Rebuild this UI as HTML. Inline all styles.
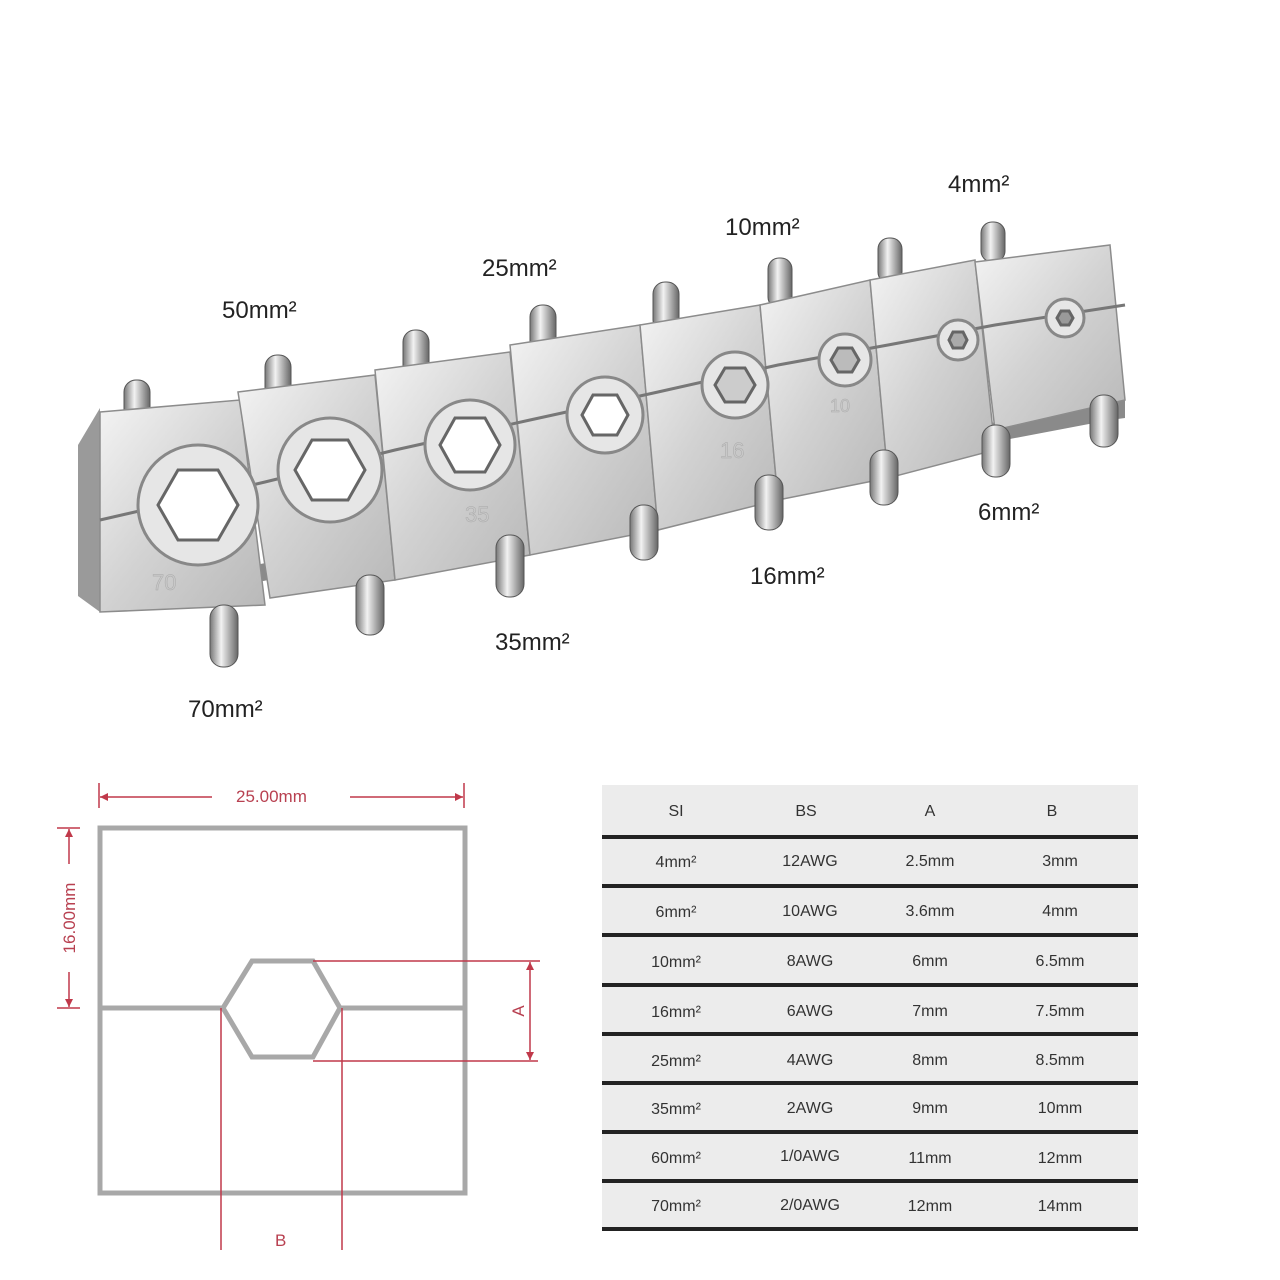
<!DOCTYPE html>
<html><head><meta charset="utf-8"><style>
html,body{margin:0;padding:0;background:#fff;width:1280px;height:1280px;overflow:hidden}
svg{display:block}
text{font-family:"Liberation Sans",sans-serif}
</style></head><body>
<svg width="1280" height="1280" viewBox="0 0 1280 1280" xmlns="http://www.w3.org/2000/svg">
<defs>
<linearGradient id="m" x1="0" y1="0" x2="1" y2="1">
<stop offset="0" stop-color="#f4f4f4"/><stop offset="0.5" stop-color="#d2d2d2"/><stop offset="1" stop-color="#b8b8b8"/></linearGradient>
<linearGradient id="p" x1="0" y1="0" x2="1" y2="0">
<stop offset="0" stop-color="#777"/><stop offset="0.4" stop-color="#f2f2f2"/><stop offset="1" stop-color="#666"/></linearGradient>
</defs>
<g fill="url(#p)" stroke="#555" stroke-width="1">
<rect x="124" y="380" width="26" height="60" rx="12"/>
<rect x="265" y="355" width="26" height="60" rx="12"/>
<rect x="403" y="330" width="26" height="50" rx="12"/>
<rect x="530" y="305" width="26" height="50" rx="12"/>
<rect x="653" y="282" width="26" height="50" rx="12"/>
<rect x="768" y="258" width="24" height="50" rx="11"/>
<rect x="878" y="238" width="24" height="45" rx="11"/>
<rect x="981" y="222" width="24" height="40" rx="11"/>
</g>
<polygon points="78,445 100,408 100,612 78,596" fill="#9a9a9a"/>
<polygon points="100,612 1110,420 1125,418 1125,400 1110,400 100,595" fill="#8a8a8a"/>
<g fill="url(#m)" stroke="#8c8c8c" stroke-width="1.5">
<polygon points="100,412 240,400 265,605 100,612"/>
<polygon points="238,392 375,375 395,580 270,598"/>
<polygon points="375,370 510,352 530,555 395,580"/>
<polygon points="510,345 640,325 658,530 530,555"/>
<polygon points="640,325 760,305 778,500 658,530"/>
<polygon points="760,305 870,280 888,478 778,500"/>
<polygon points="870,280 975,260 995,450 888,478"/>
<polygon points="975,262 1110,245 1125,400 995,430"/>
</g>
<polyline points="100,520 265,482 395,450 530,420 658,392 778,365 888,345 995,325 1125,305" fill="none" stroke="#777" stroke-width="3"/>
<g stroke="#888" stroke-width="3" fill="#e6e6e6">
<circle cx="198" cy="505" r="60"/><circle cx="330" cy="470" r="52"/>
<circle cx="470" cy="445" r="45"/><circle cx="605" cy="415" r="38"/>
<circle cx="735" cy="385" r="33"/><circle cx="845" cy="360" r="26"/>
<circle cx="958" cy="340" r="20"/><circle cx="1065" cy="318" r="19"/>
</g>
<g fill="#fff" stroke="#666" stroke-width="3">
<polygon points="158,505 178,470 218,470 238,505 218,540 178,540"/>
<polygon points="295,470 312,440 348,440 365,470 348,500 312,500"/>
<polygon points="440,445 455,418 485,418 500,445 485,472 455,472"/>
<polygon points="582,415 593,395 617,395 628,415 617,435 593,435"/>
<polygon points="715,385 725,368 745,368 755,385 745,402 725,402" fill="#ccc"/>
<polygon points="831,360 838,348 852,348 859,360 852,372 838,372" fill="#bbb"/>
<polygon points="949,340 953,332 963,332 967,340 963,348 953,348" fill="#aaa"/>
<polygon points="1057,318 1061,311 1069,311 1073,318 1069,325 1061,325" fill="#999"/>
</g>
<g fill="#c8c8c8" font-size="22" stroke="#aaa" stroke-width="0.5">
<text x="152" y="590">70</text><text x="465" y="522">35</text>
<text x="720" y="458">16</text><text x="830" y="412" font-size="18">10</text>
</g>
<g fill="url(#p)" stroke="#555" stroke-width="1">
<rect x="210" y="605" width="28" height="62" rx="13"/>
<rect x="356" y="575" width="28" height="60" rx="13"/>
<rect x="496" y="535" width="28" height="62" rx="13"/>
<rect x="630" y="505" width="28" height="55" rx="13"/>
<rect x="755" y="475" width="28" height="55" rx="13"/>
<rect x="870" y="450" width="28" height="55" rx="13"/>
<rect x="982" y="425" width="28" height="52" rx="13"/>
<rect x="1090" y="395" width="28" height="52" rx="13"/>
</g>
<g font-size="24" fill="#222">
<text x="222" y="318">50mm²</text><text x="482" y="276">25mm²</text>
<text x="725" y="235">10mm²</text><text x="948" y="192">4mm²</text>
<text x="188" y="717">70mm²</text><text x="495" y="650">35mm²</text>
<text x="750" y="584">16mm²</text><text x="978" y="520">6mm²</text>
</g>
<g fill="none" stroke="#a8a8a8" stroke-width="5">
<rect x="100" y="828" width="365" height="365"/>
<line x1="100" y1="1008" x2="223" y2="1008"/><line x1="340" y1="1008" x2="465" y2="1008"/>
<polygon points="223,1008 252,961 313,961 340,1008 313,1057 252,1057"/>
</g>
<g stroke="#c0394a" stroke-width="1.5" fill="#c0394a">
<line x1="99" y1="783" x2="99" y2="808"/><line x1="464" y1="783" x2="464" y2="808"/>
<line x1="100" y1="797" x2="212" y2="797"/><line x1="350" y1="797" x2="463" y2="797"/>
<polygon points="100,797 108,793 108,801" stroke="none"/><polygon points="463,797 455,793 455,801" stroke="none"/>
<line x1="57" y1="828" x2="80" y2="828"/><line x1="57" y1="1008" x2="80" y2="1008"/>
<line x1="69" y1="829" x2="69" y2="864"/><line x1="69" y1="972" x2="69" y2="1007"/>
<polygon points="69,829 65,837 73,837" stroke="none"/><polygon points="69,1007 65,999 73,999" stroke="none"/>
<line x1="313" y1="961" x2="540" y2="961"/><line x1="313" y1="1061" x2="538" y2="1061"/>
<line x1="530" y1="962" x2="530" y2="1060"/>
<polygon points="530,962 526,970 534,970" stroke="none"/><polygon points="530,1060 526,1052 534,1052" stroke="none"/>
<line x1="221" y1="1008" x2="221" y2="1250"/><line x1="342" y1="1008" x2="342" y2="1250"/>
</g>
<g fill="#b84050" font-size="17">
<text x="236" y="802">25.00mm</text>
<text x="275" y="1246">B</text>
<text transform="translate(75,918) rotate(-90)" text-anchor="middle">16.00mm</text>
<text transform="translate(524,1011) rotate(-90)" text-anchor="middle">A</text>
</g>
<rect x="602" y="785" width="536" height="445" fill="#ececec"/>
<g fill="#222">
<rect x="602" y="835" width="536" height="4"/><rect x="602" y="884" width="536" height="4"/>
<rect x="602" y="933" width="536" height="4"/><rect x="602" y="983" width="536" height="4"/>
<rect x="602" y="1032" width="536" height="4"/><rect x="602" y="1081" width="536" height="4"/>
<rect x="602" y="1130" width="536" height="4"/><rect x="602" y="1179" width="536" height="4"/>
<rect x="602" y="1227" width="536" height="4"/>
</g>
<g fill="#333" font-size="16" text-anchor="middle">
<text x="676" y="816">SI</text><text x="806" y="816">BS</text><text x="930" y="816">A</text><text x="1052" y="816">B</text>
<text x="676" y="867">4mm²</text><text x="810" y="866">12AWG</text><text x="930" y="866">2.5mm</text><text x="1060" y="866">3mm</text>
<text x="676" y="917">6mm²</text><text x="810" y="916">10AWG</text><text x="930" y="916">3.6mm</text><text x="1060" y="916">4mm</text>
<text x="676" y="967">10mm²</text><text x="810" y="966">8AWG</text><text x="930" y="966">6mm</text><text x="1060" y="966">6.5mm</text>
<text x="676" y="1017">16mm²</text><text x="810" y="1016">6AWG</text><text x="930" y="1016">7mm</text><text x="1060" y="1016">7.5mm</text>
<text x="676" y="1066">25mm²</text><text x="810" y="1065">4AWG</text><text x="930" y="1065">8mm</text><text x="1060" y="1065">8.5mm</text>
<text x="676" y="1114">35mm²</text><text x="810" y="1113">2AWG</text><text x="930" y="1113">9mm</text><text x="1060" y="1113">10mm</text>
<text x="676" y="1163">60mm²</text><text x="810" y="1161">1/0AWG</text><text x="930" y="1163">11mm</text><text x="1060" y="1163">12mm</text>
<text x="676" y="1211">70mm²</text><text x="810" y="1210">2/0AWG</text><text x="930" y="1211">12mm</text><text x="1060" y="1211">14mm</text>
</g>
</svg>
</body></html>
